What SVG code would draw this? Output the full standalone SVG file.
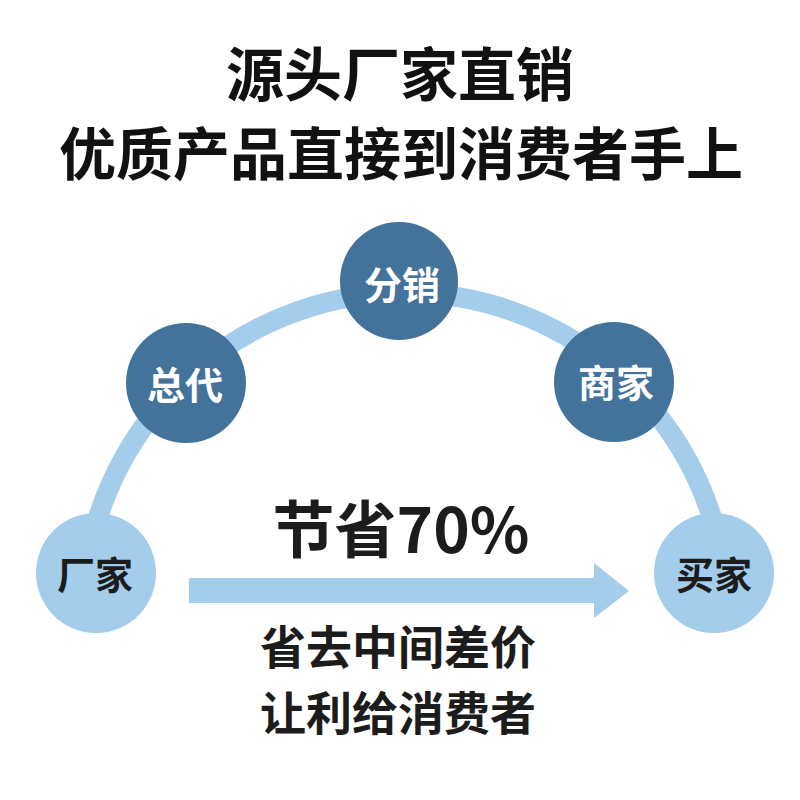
<svg xmlns="http://www.w3.org/2000/svg" width="800" height="800" viewBox="0 0 800 800">
<style>
.t{font-family:"Noto Sans CJK SC","Noto Sans",sans-serif;font-weight:bold;text-anchor:middle}
.dark{fill:#43729b}
.light{fill:#a4cceb}
.wl{fill:#ffffff;font-size:38px}
.bl{fill:#1c1c1c;font-size:38px}
</style>
<rect width="800" height="800" fill="#ffffff"/>
<g id="title">
<text class="t" x="400" y="96" font-size="58" fill="#111111">源头厂家直销</text>
<text class="t" x="401" y="175" font-size="57" fill="#111111">优质产品直接到消费者手上</text>
</g>
<g id="connectors">
<path d="M 87.7 560 A 322 322 0 0 1 722.3 560" fill="none" stroke="#a4cceb" stroke-width="20"/>
<rect x="189" y="578" width="406" height="25" fill="#a4cceb"/>
<polygon points="594,563 629,591 594,618" fill="#a4cceb"/>
</g>
<g id="node-changjia">
<circle class="light" cx="96" cy="573" r="60"/>
<text class="t bl" x="95" y="589">厂家</text>
</g>
<g id="node-zongdai">
<circle class="dark" cx="186" cy="383" r="60"/>
<text class="t wl" x="185" y="399">总代</text>
</g>
<g id="node-fenxiao">
<circle class="dark" cx="399" cy="281" r="59"/>
<text class="t wl" x="402" y="299">分销</text>
</g>
<g id="node-shangjia">
<circle class="dark" cx="614" cy="382" r="60"/>
<text class="t wl" x="616" y="397">商家</text>
</g>
<g id="node-maijia">
<circle class="light" cx="714" cy="573" r="60"/>
<text class="t bl" x="714" y="589">买家</text>
</g>
<g id="labels">
<text class="t" x="401" y="553" font-size="62" fill="#1c1c1c">节省70%</text>
<text class="t" x="398" y="664" font-size="46" fill="#1c1c1c">省去中间差价</text>
<text class="t" x="398" y="730" font-size="46" fill="#1c1c1c">让利给消费者</text>
</g>
</svg>
